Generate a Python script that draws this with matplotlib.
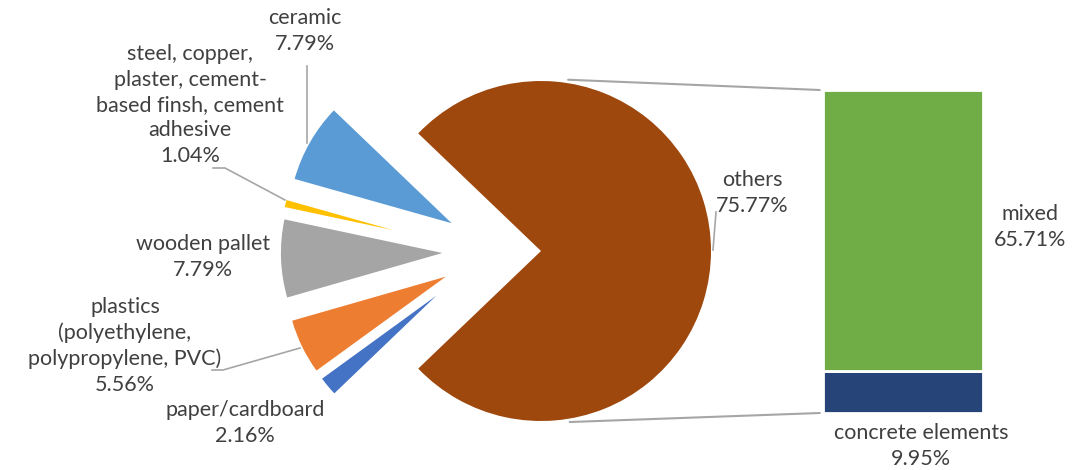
import math
import matplotlib.pyplot as plt
from matplotlib.patches import ConnectionPatch

# pie data (others first, then the small exploded slices going ccw)
pie_labels = ['others', 'ceramic',
              'steel, copper,\nplaster, cement-\nbased finsh, cement\nadhesive',
              'wooden pallet', 'plastics\n(polyethylene,\npolypropylene, PVC)',
              'paper/cardboard']
pie_vals = [75.77, 7.79, 1.04, 7.79, 5.56, 2.16]
pie_colors = ['#9E480E', '#5B9BD5', '#FFC000', '#A5A5A5', '#ED7D31', '#4472C4']
explode = [0, 0.55, 0.88, 0.58, 0.58, 0.67]
radii = [1.0, 0.96, 0.65, 0.95, 0.94, 0.83]

# bar data (breakdown of others)
bar_labels = ['concrete elements', 'mixed']
bar_vals = [9.95, 65.71]
bar_colors = ['#264478', '#70AD47']

W, H = 1072, 470
txt = '#404040'
plt.rcParams['font.family'] = ['Lato', 'DejaVu Sans']

fig = plt.figure(figsize=(W / 100, H / 100), dpi=100)

# pie axes over whole figure, units = pie radius
cx, cy, R = 541, 251, 170
ax = fig.add_axes([0, 0, 1, 1])
start = -pie_vals[0] / sum(pie_vals) * 180
wedges, _ = ax.pie(pie_vals, colors=pie_colors, startangle=start, counterclock=True)
# exploded slices are pushed out in a direction squeezed toward the left
for w, r, e in zip(wedges, radii, explode):
    w.set_radius(r)
    mid = (w.theta1 + w.theta2) / 2
    d = math.radians(180 + (mid - 180) * 0.58)
    if e:
        w.set_center((e * math.cos(d), e * math.sin(d)))
ax.set_xlim(-cx / R, (W - cx) / R)
ax.set_ylim(-(H - cy) / R, cy / R)
ax.set_aspect('equal')
ax.axis('off')

# bar axes
bx = fig.add_axes([823 / W, (H - 413) / H, 160 / W, 323 / H])
bottom = 0
for v, c in zip(bar_vals, bar_colors):
    bx.bar(0, v, bottom=bottom, width=1, color=c, edgecolor='white', linewidth=2)
    bottom += v
bx.set_xlim(-0.5, 0.5)
bx.set_ylim(0, sum(bar_vals))
bx.axis('off')

# connector lines pie -> bar
for ang, yb in [(81, sum(bar_vals)), (-80.5, 0)]:
    a = math.radians(ang)
    con = ConnectionPatch(xyA=(1.02 * math.cos(a), 1.02 * math.sin(a)), coordsA=ax.transData,
                          xyB=(-0.52, yb), coordsB=bx.transData,
                          color='#A6A6A6', lw=1.5)
    fig.add_artist(con)


def px(x, y):
    return x / W, 1 - y / H


def label(x, y, s):
    fig.text(*px(x, y), s, ha='center', va='center', fontsize=15.5,
             color=txt, linespacing=1.33)


def leader(pts):
    xs = [p[0] / W for p in pts]
    ys = [1 - p[1] / H for p in pts]
    fig.add_artist(plt.Line2D(xs, ys, color='#A6A6A6', lw=1.2))


pct = ['%.2f%%' % v for v in pie_vals]
label(752, 193, pie_labels[0] + '\n' + pct[0])
label(305, 31, pie_labels[1] + '\n' + pct[1])
label(190, 105, pie_labels[2] + '\n' + pct[2])
label(203, 257, pie_labels[3] + '\n' + pct[3])
label(125, 346, pie_labels[4] + '\n' + pct[4])
label(245, 423, pie_labels[5] + '\n' + pct[5])
label(1030, 227, bar_labels[1] + '\n' + '%.2f%%' % bar_vals[1])
label(921, 446, bar_labels[0] + '\n' + '%.2f%%' % bar_vals[0])

leader([(713, 250), (716, 212)])
leader([(307, 66), (307, 143)])
leader([(213, 168), (225, 168), (285, 200)])
leader([(212, 370), (223, 370), (300, 348)])

fig.savefig('out.png', dpi=100)
